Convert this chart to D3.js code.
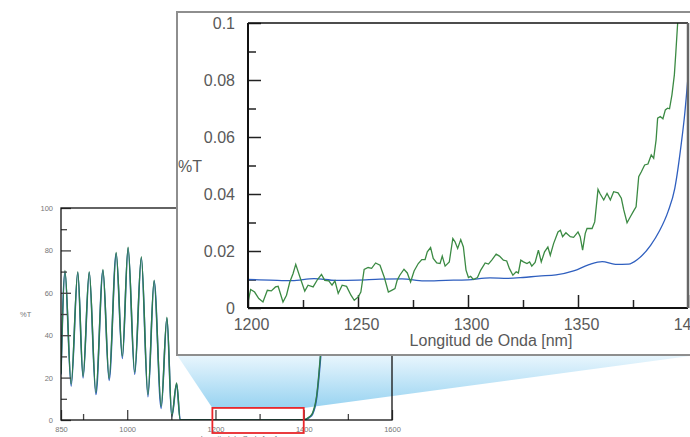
<!DOCTYPE html>
<html>
<head>
<meta charset="utf-8">
<script src="https://cdn.jsdelivr.net/npm/d3@7"></script>
<style>
    body { margin: 0; background: #fff; }
    svg { display: block; font-family: "Liberation Sans", Arial, sans-serif; }
</style>
</head>
<body>
<div id="chart"></div>
<script>
// overview spectrum (%T vs nm)
var overviewGreen = [[850, 22], [859, 70.5], [873, 17], [888, 70], [900, 20.5], [914, 70], [929, 13],
    [945, 71], [959, 19.5], [975, 79], [989, 30], [1002, 81.5], [1017, 22.5], [1032, 77], [1047, 12],
    [1061, 66], [1077, 6.5], [1090, 48.5], [1101, 2], [1112, 17.5], [1120, 0.2], [1130, 0.05],
    [1200, 0.01], [1300, 0.01], [1380, 0.05], [1400, 0.1], [1406, 0.5], [1413, 1.5], [1420, 3.3],
    [1429, 11], [1438, 31], [1446, 55]];
var overviewBlue = [[850, 21.5], [859, 70], [873, 16], [888, 69.5], [900, 19.8], [914, 69.5], [929, 12],
    [945, 70.5], [959, 18.7], [975, 78.5], [989, 29], [1002, 81], [1017, 21.5], [1032, 76.5], [1047, 11],
    [1061, 65.5], [1077, 5.5], [1090, 48], [1101, 1.5], [1112, 17], [1120, 0.2], [1130, 0.05],
    [1200, 0.01], [1300, 0.01], [1380, 0.02], [1400, 0.08], [1406, 0.4], [1413, 1.2], [1420, 2.8],
    [1429, 10], [1438, 29], [1446, 52]];

// zoomed region 1200-1400 nm
var insetGreen = [[1200.0, 0.0021], [1201.2, 0.0065], [1203.0, 0.0056], [1204.9, 0.0033], [1206.8, 0.0021],
    [1208.8, 0.0062], [1210.6, 0.0060], [1212.5, 0.0074], [1213.7, 0.0076], [1215.9, 0.0021], [1217.5, 0.0045],
    [1219.0, 0.0091], [1220.5, 0.0121], [1221.7, 0.0153], [1223.6, 0.0109], [1225.8, 0.0059], [1227.3, 0.0080],
    [1229.6, 0.0074], [1231.6, 0.0100], [1233.4, 0.0118], [1234.9, 0.0097], [1236.7, 0.0095], [1238.2, 0.0080],
    [1239.5, 0.0095], [1241.0, 0.0051], [1242.8, 0.0080], [1244.8, 0.0076], [1246.8, 0.0045], [1248.3, 0.0027],
    [1250.1, 0.0039], [1251.3, 0.0056], [1252.8, 0.0135], [1254.6, 0.0142], [1256.2, 0.0139], [1258.0, 0.0158],
    [1260.0, 0.0150], [1261.9, 0.0109], [1263.8, 0.0056], [1265.3, 0.0062], [1266.8, 0.0068], [1267.8, 0.0097],
    [1269.0, 0.0115], [1270.9, 0.0136], [1272.4, 0.0123], [1273.9, 0.0091], [1275.5, 0.0130], [1277.4, 0.0156],
    [1279.0, 0.0170], [1280.5, 0.0170], [1281.5, 0.0197], [1283.0, 0.0212], [1284.2, 0.0174], [1285.8, 0.0158],
    [1287.3, 0.0156], [1288.3, 0.0182], [1289.6, 0.0147], [1291.5, 0.0162], [1293.1, 0.0244], [1294.1, 0.0232],
    [1295.3, 0.0209], [1296.7, 0.0240], [1297.9, 0.0214], [1299.1, 0.0133], [1300.2, 0.0107], [1301.2, 0.0111],
    [1302.4, 0.0100], [1304.3, 0.0107], [1305.8, 0.0133], [1307.8, 0.0158], [1309.3, 0.0154], [1310.8, 0.0168],
    [1312.8, 0.0189], [1314.3, 0.0182], [1316.1, 0.0168], [1317.6, 0.0165], [1318.8, 0.0139], [1320.4, 0.0115],
    [1321.9, 0.0127], [1322.9, 0.0123], [1324.0, 0.0168], [1325.2, 0.0162], [1326.8, 0.0156], [1328.0, 0.0162],
    [1329.0, 0.0147], [1330.5, 0.0160], [1332.0, 0.0203], [1333.3, 0.0162], [1334.8, 0.0197], [1336.3, 0.0214],
    [1337.4, 0.0185], [1338.9, 0.0226], [1340.9, 0.0267], [1342.0, 0.0273], [1343.0, 0.0250], [1344.5, 0.0264],
    [1346.5, 0.0250], [1348.0, 0.0248], [1350.0, 0.0267], [1351.0, 0.0250], [1352.1, 0.0203], [1353.3, 0.0262],
    [1354.1, 0.0279], [1356.4, 0.0279], [1357.6, 0.0302], [1359.1, 0.0416], [1360.1, 0.0400], [1361.7, 0.0379],
    [1363.2, 0.0402], [1364.7, 0.0379], [1366.2, 0.0408], [1368.2, 0.0404], [1369.7, 0.0385], [1370.8, 0.0344],
    [1372.3, 0.0299], [1373.8, 0.0320], [1375.3, 0.0341], [1376.4, 0.0355], [1377.6, 0.0461], [1378.8, 0.0478],
    [1380.3, 0.0502], [1381.8, 0.0505], [1383.3, 0.0537], [1384.4, 0.0525], [1385.5, 0.0590], [1386.2, 0.0666],
    [1387.4, 0.0672], [1388.6, 0.0664], [1389.7, 0.0695], [1390.7, 0.0701], [1391.6, 0.0699], [1392.7, 0.0748],
    [1393.8, 0.0818], [1394.5, 0.0900], [1395.3, 0.1000], [1395.8, 0.1060]];
var insetBlue = [[1200, 0.0100], [1210, 0.0098], [1220, 0.0096], [1230, 0.0103], [1240, 0.0097], [1250, 0.0098],
    [1260, 0.0101], [1270, 0.0102], [1280, 0.0095], [1290, 0.0097], [1300, 0.0099], [1310, 0.0106],
    [1318, 0.0104], [1325, 0.0107], [1332, 0.0112], [1340, 0.0116], [1348, 0.0130], [1355, 0.0152],
    [1361, 0.0163], [1367, 0.0153], [1373, 0.0154], [1377, 0.0170], [1383, 0.0220], [1387, 0.0270],
    [1391, 0.0340], [1394, 0.0420], [1397, 0.0580], [1398.5, 0.0680], [1400, 0.0810]];

// ticks
var overviewXLabels = [850, 1000, 1200, 1400, 1600];
var overviewXMinor = [900, 1100, 1300, 1500];
var overviewYLabels = [0, 20, 40, 60, 80, 100];
var overviewYMinor = [10, 30, 50, 70, 90];
var insetXLabels = [1200, 1250, 1300, 1350, 1400];
var insetXMinor = [1225, 1275, 1325, 1375];
var insetYLabels = [0, 0.02, 0.04, 0.06, 0.08, 0.1];
var insetYMinor = [0.01, 0.03, 0.05, 0.07, 0.09];
var zoomRange = [1193, 1400];

var green = "#3b8a43", blue = "#2f5fbf";
var plain = function (d) { return String(d); };

var svg = d3.select("#chart").append("svg")
    .attr("width", 690)
    .attr("height", 437);

var defs = svg.append("defs");
var grad = defs.append("linearGradient")
    .attr("id", "zoomFill")
    .attr("x1", 0).attr("y1", 0).attr("x2", 0).attr("y2", 1);
grad.append("stop").attr("offset", "0%").attr("stop-color", "#e9f6fd");
grad.append("stop").attr("offset", "100%").attr("stop-color", "#98d3f1");

// ---------- overview chart ----------
var ox = d3.scaleLinear().domain([850, 1600]).range([61, 392]);
var oy = d3.scaleLinear().domain([0, 100]).range([420, 208]);

var boxTop = oy(5.7), boxBottom = oy(0) + 13;

// light blue wedge from zoom box to inset
svg.append("polygon")
    .attr("points", [[177, 355], [ox(zoomRange[0]), boxTop], [ox(zoomRange[1]), boxTop], [697, 355]].join(" "))
    .attr("fill", "url(#zoomFill)");

defs.append("clipPath").attr("id", "clipO")
    .append("rect").attr("x", 61).attr("y", 208).attr("width", 331).attr("height", 212);

var oLine = d3.line()
    .x(function (d) { return ox(d[0]); })
    .y(function (d) { return oy(d[1]); })
    .curve(d3.curveMonotoneX);

var og = svg.append("g");
og.append("path").datum(overviewBlue)
    .attr("d", oLine).attr("fill", "none").attr("stroke", blue).attr("stroke-width", 1.6)
    .attr("clip-path", "url(#clipO)");
og.append("path").datum(overviewGreen)
    .attr("d", oLine).attr("fill", "none").attr("stroke", "#2f7d4a").attr("stroke-width", 1.4)
    .attr("clip-path", "url(#clipO)");

og.append("g")
    .attr("transform", "translate(61,0)")
    .call(d3.axisLeft(oy).tickValues(overviewYLabels).tickSize(-10).tickPadding(8).tickFormat(plain))
    .call(function (g) { g.select(".domain").remove(); });
og.append("g")
    .attr("transform", "translate(61,0)")
    .call(d3.axisLeft(oy).tickValues(overviewYMinor).tickSize(-6).tickFormat(""))
    .call(function (g) { g.select(".domain").remove(); });
og.append("g")
    .attr("transform", "translate(0,420)")
    .call(d3.axisBottom(ox).tickValues(overviewXLabels).tickSize(-10).tickPadding(7).tickFormat(plain))
    .call(function (g) { g.select(".domain").remove(); });
og.append("g")
    .attr("transform", "translate(0,420)")
    .call(d3.axisBottom(ox).tickValues(overviewXMinor).tickSize(-6).tickFormat(""))
    .call(function (g) { g.select(".domain").remove(); });
og.selectAll(".tick line").attr("stroke", "#444").attr("stroke-width", 1.3);
og.selectAll(".tick text").attr("fill", "#777").style("font-size", "7.5px")
    .style("font-family", "'Liberation Sans', Arial, sans-serif");

og.append("rect")
    .attr("x", 61).attr("y", 208).attr("width", 331).attr("height", 212)
    .attr("fill", "none").attr("stroke", "#111").attr("stroke-width", 1.3);

og.append("text").attr("x", 20).attr("y", 317).attr("fill", "#777")
    .style("font-size", "7.5px").text("%T");
og.append("text").attr("x", 239).attr("y", 441).attr("fill", "#777")
    .attr("text-anchor", "middle").style("font-size", "7.5px").text("Longitud de Onda [nm]");

// zoom box
svg.append("rect")
    .attr("x", ox(zoomRange[0])).attr("y", boxTop)
    .attr("width", ox(zoomRange[1]) - ox(zoomRange[0])).attr("height", boxBottom - boxTop)
    .attr("fill", "none").attr("stroke", "#e8262b").attr("stroke-width", 1.8);

// ---------- inset chart ----------
svg.append("rect")
    .attr("x", 177).attr("y", 12).attr("width", 540).attr("height", 343)
    .attr("fill", "#fff").attr("stroke", "#8e8e8e").attr("stroke-width", 2);

var ix = d3.scaleLinear().domain([1200, 1400]).range([248, 688]);
var iy = d3.scaleLinear().domain([0, 0.1]).range([308, 23]);

defs.append("clipPath").attr("id", "clipI")
    .append("rect").attr("x", 248).attr("y", 23).attr("width", 440).attr("height", 285);

var ig = svg.append("g");

ig.append("g")
    .attr("transform", "translate(248,0)")
    .call(d3.axisLeft(iy).tickValues(insetYLabels).tickSize(-13).tickPadding(13).tickFormat(plain))
    .call(function (g) { g.select(".domain").remove(); });
ig.append("g")
    .attr("transform", "translate(248,0)")
    .call(d3.axisLeft(iy).tickValues(insetYMinor).tickSize(-8).tickFormat(""))
    .call(function (g) { g.select(".domain").remove(); });
var ixAxis = ig.append("g")
    .attr("transform", "translate(0,308)")
    .call(d3.axisBottom(ix).tickValues(insetXLabels).tickSize(-13).tickPadding(11).tickFormat(plain))
    .call(function (g) { g.select(".domain").remove(); });
ixAxis.selectAll(".tick text").attr("dx", 3);
ig.append("g")
    .attr("transform", "translate(0,308)")
    .call(d3.axisBottom(ix).tickValues(insetXMinor).tickSize(-8).tickFormat(""))
    .call(function (g) { g.select(".domain").remove(); });
ig.selectAll(".tick line").attr("stroke", "#222").attr("stroke-width", 1.5);
ig.selectAll(".tick text").attr("fill", "#595959").style("font-size", "16px")
    .style("font-family", "'Liberation Sans', Arial, sans-serif");

var iLine = d3.line()
    .x(function (d) { return ix(d[0]); })
    .y(function (d) { return iy(d[1]); });

ig.append("path").datum(insetBlue)
    .attr("d", iLine.curve(d3.curveMonotoneX)).attr("fill", "none")
    .attr("stroke", blue).attr("stroke-width", 1.3).attr("clip-path", "url(#clipI)");
ig.append("path").datum(insetGreen)
    .attr("d", iLine.curve(d3.curveLinear)).attr("fill", "none")
    .attr("stroke", green).attr("stroke-width", 1.3).attr("clip-path", "url(#clipI)");

// frame
ig.append("line").attr("x1", 248).attr("x2", 688).attr("y1", 23).attr("y2", 23)
    .attr("stroke", "#111").attr("stroke-width", 1.4);
ig.append("line").attr("x1", 248).attr("x2", 248).attr("y1", 23).attr("y2", 308)
    .attr("stroke", "#111").attr("stroke-width", 2);
ig.append("line").attr("x1", 248).attr("x2", 688).attr("y1", 308).attr("y2", 308)
    .attr("stroke", "#111").attr("stroke-width", 2);
ig.append("line").attr("x1", 688).attr("x2", 688).attr("y1", 23).attr("y2", 308)
    .attr("stroke", "#666").attr("stroke-width", 2.5);

ig.append("text").attr("x", 178).attr("y", 172).attr("fill", "#595959")
    .style("font-size", "16px").text("%T");
ig.append("text").attr("x", 491).attr("y", 346).attr("fill", "#595959")
    .attr("text-anchor", "middle").style("font-size", "16px").text("Longitud de Onda [nm]");
</script>
</body>
</html>
